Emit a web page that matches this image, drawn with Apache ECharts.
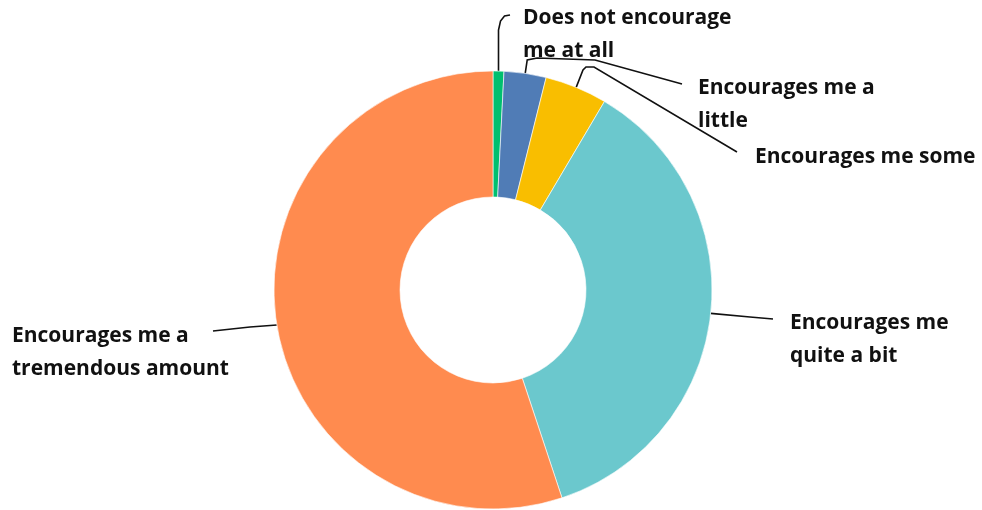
<!DOCTYPE html>
<html>
<head>
<meta charset="utf-8">
<script src="https://cdn.jsdelivr.net/npm/echarts@6/dist/echarts.min.js"></script>
<style>
html,body{margin:0;padding:0;background:#fff;}
#chart{width:982px;height:510px;}
</style>
</head>
<body>
<div id="chart"></div>
<script>
var categories = [
  'Does not encourage\nme at all',
  'Encourages me a\nlittle',
  'Encourages me some',
  'Encourages me\nquite a bit',
  'Encourages me a\ntremendous amount'
];
var values = [0.8, 3.1, 4.6, 36.4, 55.1];
var colors = ['#00BF6F', '#507CB6', '#F9BE00', '#6BC8CD', '#FF8B4F'];

// label anchor positions (left x, first-line center y)
var labelPos = [
  [523, 18],
  [698, 88],
  [755, 157],
  [790, 323],
  [12, 336]
];

var chart = echarts.init(document.getElementById('chart'), null, {renderer: 'canvas'});

chart.setOption({
  animation: false,
  series: [{
    type: 'pie',
    center: [493, 290],
    radius: [93, 219],
    startAngle: 90,
    clockwise: true,
    avoidLabelOverlap: false,
    itemStyle: {borderColor: '#ffffff', borderWidth: 0.6},
    label: {
      show: true,
      position: 'outside',
      formatter: '{b}',
      fontFamily: 'Open Sans',
      fontWeight: 'bold',
      fontSize: 21,
      lineHeight: 33,
      color: '#111111'
    },
    labelLine: {
      show: true,
      length: 10,
      length2: 10,
      lineStyle: {color: '#111111', width: 1.6}
    },
    labelLayout: function (p) {
      var i = p.dataIndex;
      var lp = labelPos[i];
      var p0 = p.labelLinePoints ? p.labelLinePoints[0] : [0, 0];
      var pts;
      if (i === 0) {
        pts = [p0, [p0[0], 30], [p0[0] + 2, 21], [p0[0] + 6, 16], [lp[0] - 13, 15]];
      } else if (i === 1) {
        pts = [p0, [p0[0] + 2, 60], [p0[0] + 12, 58], [595, 60], [lp[0] - 16, 84]];
      } else if (i === 2) {
        pts = [p0, [583, 70], [586, 67], [594, 67], [lp[0] - 18, 152]];
      } else if (i === 3) {
        pts = [p0, [lp[0] - 40, 317], [lp[0] - 17, 319]];
      } else {
        pts = [p0, [250, 327], [lp[0] + 201, 331]];
      }
      return {
        x: lp[0],
        y: lp[1] - 16.5,
        align: 'left',
        verticalAlign: 'top',
        labelLinePoints: pts
      };
    },
    data: categories.map(function (c, i) {
      return {name: c, value: values[i], itemStyle: {color: colors[i]}};
    })
  }]
});
</script>
</body>
</html>
